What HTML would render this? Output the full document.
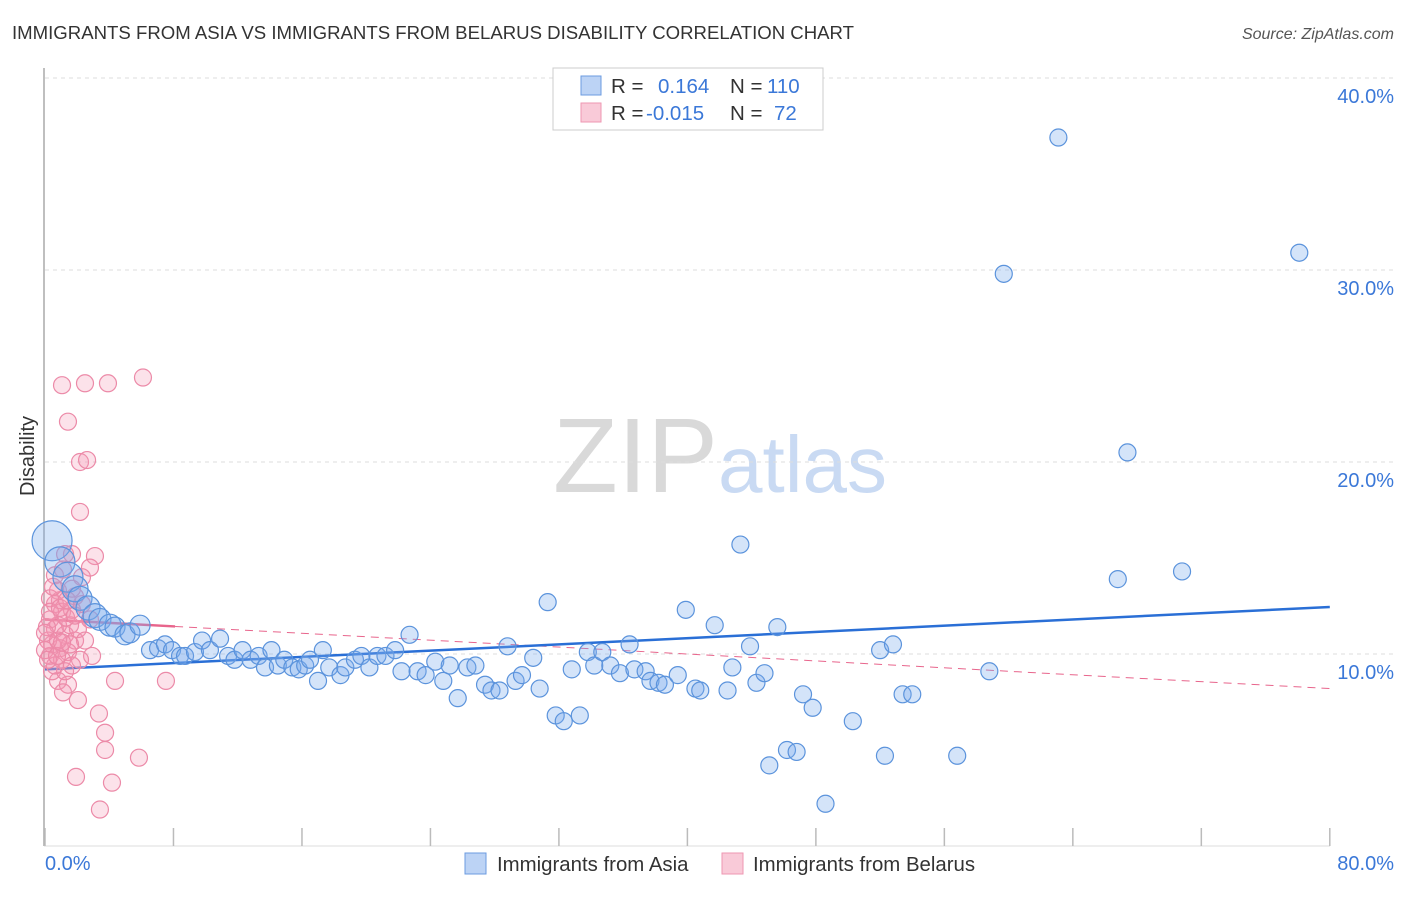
<!DOCTYPE html>
<html><head><meta charset="utf-8"><style>
body{margin:0;background:#fff;font-family:"Liberation Sans",sans-serif}
svg text{font-family:"Liberation Sans",sans-serif}
</style></head><body>
<svg id="c" width="1406" height="892" xmlns="http://www.w3.org/2000/svg">
<text x="12" y="39" font-size="18.6" fill="#333">IMMIGRANTS FROM ASIA VS IMMIGRANTS FROM BELARUS DISABILITY CORRELATION CHART</text>
<text x="1394" y="39" font-size="16" fill="#555" font-style="italic" text-anchor="end">Source: ZipAtlas.com</text>
<g>
<text x="553" y="492" font-size="106" fill="#d9d9d9" font-family="Liberation Serif">ZIP</text>
<text x="718" y="492" font-size="80" fill="#c9daf3">atlas</text>
</g>
<g id="grid"></g><g id="axes"></g><g id="trend"></g><g id="pts"></g>
<text x="34" y="456" font-size="20" fill="#333" text-anchor="middle" transform="rotate(-90 34 456)">Disability</text>
<text x="45" y="870" font-size="20" fill="#3b78d8">0.0%</text>
<text x="1394" y="870" font-size="20" fill="#3b78d8" text-anchor="end">80.0%</text>
<g>
<rect x="553" y="68" width="270" height="62" fill="#fff" stroke="#ccc"/>
<rect x="581" y="76" width="20" height="19" fill="#bcd3f5" stroke="#6b9be0"/>
<rect x="581" y="103" width="20" height="19" fill="#f9cad8" stroke="#ee97b2"/>
<text x="611" y="93" font-size="20.5" fill="#333">R = <tspan x="658" fill="#3b78d8">0.164</tspan><tspan x="730" fill="#333">N = </tspan><tspan x="767" fill="#3b78d8">110</tspan></text>
<text x="611" y="120" font-size="20.5" fill="#333">R = <tspan x="646" fill="#3b78d8">-0.015</tspan><tspan x="730" fill="#333">N = </tspan><tspan x="774" fill="#3b78d8">72</tspan></text>
</g>
<g>
<rect x="465" y="853" width="21" height="21" fill="#bcd3f5" stroke="#6b9be0"/>
<text x="497" y="871" font-size="20.4" fill="#333">Immigrants from Asia</text>
<rect x="722" y="853" width="21" height="21" fill="#f9cad8" stroke="#ee97b2"/>
<text x="753" y="871" font-size="20.4" fill="#333">Immigrants from Belarus</text>
</g>
</svg>
<script>
const yTicks=[10,20,30,40];
const yTickLabels=["10.0%","20.0%","30.0%","40.0%"];
const xTicks=[0,8,16,24,32,40,48,56,64,72,80];
const asiaX=[0.44,0.93,1.43,1.87,2.18,2.68,3.11,3.42,4.05,4.36,4.98,5.29,5.92,6.54,7.04,7.47,7.91,8.41,8.72,9.34,9.78,10.27,10.9,11.4,11.8,12.3,12.8,13.3,13.7,14.1,14.5,14.9,15.4,15.8,16.2,16.5,17.0,17.3,17.7,18.4,18.7,19.3,19.7,20.2,20.7,21.2,21.8,22.2,22.7,23.2,23.7,24.3,24.8,25.2,25.7,26.3,26.8,27.4,27.8,28.3,28.8,29.3,29.7,30.4,30.8,31.3,31.8,32.3,32.8,33.3,33.8,34.2,34.7,35.2,35.8,36.4,36.7,37.4,37.7,38.2,38.6,39.4,39.9,40.5,40.8,41.7,42.5,42.8,43.3,43.9,44.3,44.8,45.1,45.6,46.2,46.8,47.2,47.8,48.6,50.3,52.0,52.3,52.8,53.4,54.0,56.8,58.8,59.7,63.1,66.8,67.4,70.8,78.1];
const asiaY=[15.9,14.8,14.0,13.4,12.9,12.4,12.0,11.8,11.5,11.4,11.0,11.1,11.5,10.2,10.3,10.5,10.2,9.9,9.9,10.1,10.7,10.2,10.8,9.9,9.7,10.2,9.7,9.9,9.3,10.2,9.4,9.7,9.3,9.2,9.4,9.7,8.6,10.2,9.3,8.9,9.3,9.7,9.9,9.3,9.9,9.9,10.2,9.1,11.0,9.1,8.9,9.6,8.6,9.4,7.7,9.3,9.4,8.4,8.1,8.1,10.4,8.6,8.9,9.8,8.2,12.7,6.8,6.5,9.2,6.8,10.1,9.4,10.1,9.4,9.0,10.5,9.2,9.1,8.6,8.5,8.4,8.9,12.3,8.2,8.1,11.5,8.1,9.3,15.7,10.4,8.5,9.0,4.2,11.4,5.0,4.9,7.9,7.2,2.2,6.5,10.2,4.7,10.5,7.9,7.9,4.7,9.1,29.8,36.9,13.9,20.5,14.3,30.9];
const asiaSize=[20,15,15,13,12,12,12,11,11,10,10,10,10];
const belX=[1.06,2.49,3.92,6.10,1.43,2.18,2.62,2.18,1.68,3.11,2.80,2.30,1.25,0.62,0.81,1.87,0.62,1.06,0.31,0.62,1.25,1.56,1.87,0.44,0.93,1.43,0.31,2.05,1.68,0.81,0.19,1.06,2.93,0.81,1.43,1.12,0.44,1.25,4.36,7.53,2.05,3.36,3.74,3.74,5.85,1.93,4.17,3.42,2.49,0.93,0.31,1.56,0.62,0,0.12,1.68,1.12,2.18,2.80,0.31,1.31,0,1.68,0.81,0.19,0.93,1.87,0.50,1.37,2.30,0.75,1.06];
const belY=[24.0,24.1,24.1,24.4,22.1,20.0,20.1,17.4,15.2,15.1,14.5,14.0,15.2,14.1,13.3,13.0,12.6,12.2,11.8,11.3,11.0,11.5,10.7,10.5,10.3,10.1,9.9,11.3,12.3,11.5,10.7,9.7,9.9,8.6,8.4,8.0,9.1,9.1,8.6,8.6,7.6,6.9,5.9,5.0,4.6,3.6,3.3,1.9,10.7,12.8,12.9,10.5,9.4,10.2,11.4,13.4,14.4,9.7,11.8,12.2,11.9,11.1,9.4,10.7,9.7,12.4,12.0,13.5,12.8,12.6,9.9,10.6];
const asiaTrend=[9.2,12.45];
const belTrend=[11.8,8.2];
const belSolidEnd=8.1;
const NS="http://www.w3.org/2000/svg";
const X=v=>45+v*16.06, Y=v=>846-v*19.2;
function mk(t,a,p){const e=document.createElementNS(NS,t);for(const k in a)e.setAttribute(k,a[k]);document.getElementById(p).appendChild(e);return e;}
yTicks.forEach((t,i)=>{
 const g=mk('line',{x1:45,x2:1394,y1:Y(t),y2:Y(t),stroke:'#ddd','stroke-dasharray':'4 4'},'grid');
 
 
 const l=mk('text',{x:1394,y:Y(t)+25,'font-size':20,fill:'#3b78d8','text-anchor':'end'},'grid');
 l.textContent=yTickLabels[i];
 
 
});
const ax=mk('line',{x1:44,x2:44,y1:68,y2:846,stroke:'#aaa','stroke-width':1.5},'axes');


const bx=mk('line',{x1:44,x2:1330,y1:846,y2:846,stroke:'#ddd'},'axes');


xTicks.forEach(t=>{
 const k=mk('line',{x1:X(t),x2:X(t),y1:828,y2:846,stroke:'#bbb','stroke-width':1.5},'axes');
 
 
});
belX.forEach((v,i)=>{
 const c=mk('circle',{cx:X(v),cy:Y(belY[i]),r:8.5,fill:'rgba(245,150,180,0.28)',stroke:'#ec8aa8','stroke-width':1.2},'pts');
 
 
});
asiaX.forEach((v,i)=>{
 const c=mk('circle',{cx:X(v),cy:Y(asiaY[i]),r:asiaSize[i]||8.5,fill:'rgba(120,170,235,0.32)',stroke:'#5b93dc','stroke-width':1.2},'pts');
 
 
});
const bl=v=>belTrend[0]+(belTrend[1]-belTrend[0])*v/80;
let t1=mk('line',{x1:X(belSolidEnd),y1:Y(bl(belSolidEnd)),x2:X(80),y2:Y(belTrend[1]),stroke:'#e8658c','stroke-width':1,'stroke-dasharray':'8 6'},'trend');


let t2=mk('line',{x1:X(0),y1:Y(belTrend[0]),x2:X(belSolidEnd),y2:Y(bl(belSolidEnd)),stroke:'#e8658c','stroke-width':2.5},'trend');


let t3=mk('line',{x1:X(0),y1:Y(asiaTrend[0]),x2:X(80),y2:Y(asiaTrend[1]),stroke:'#2a6fd6','stroke-width':2.5},'trend');


</script>
</body></html>
